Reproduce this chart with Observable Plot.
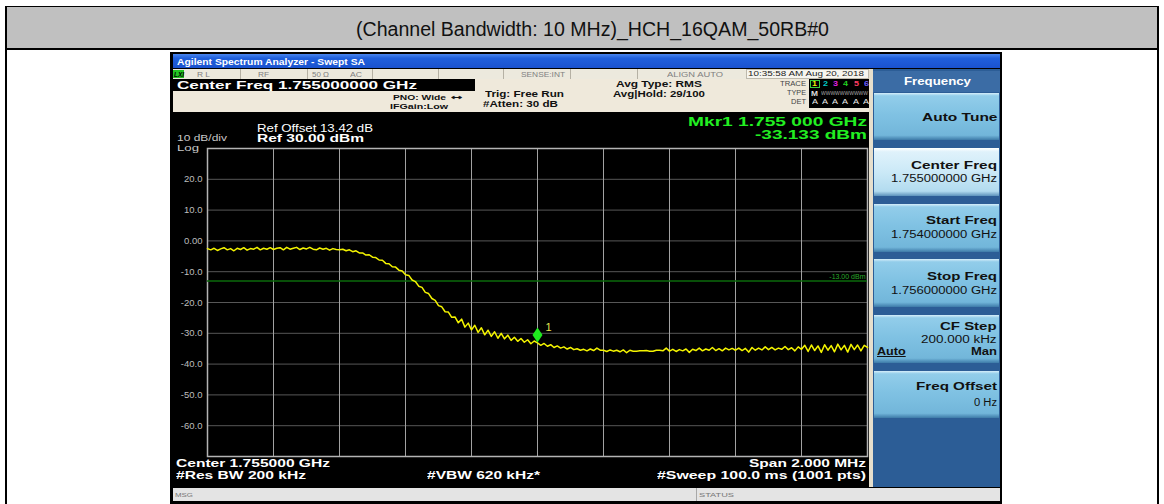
<!DOCTYPE html>
<html><head><meta charset="utf-8">
<script src="https://cdn.jsdelivr.net/npm/d3@7"></script>
<script src="https://cdn.jsdelivr.net/npm/@observablehq/plot@0.6"></script>
<style>
html,body{margin:0;padding:0;background:#fff;}
#root{position:relative;width:1164px;height:504px;overflow:hidden;font-family:"Liberation Sans",Arial,sans-serif;}
.b{position:absolute;box-sizing:border-box;}
.t{position:absolute;white-space:nowrap;transform-origin:0 50%;}
#plotwrap{position:absolute;left:170px;top:140px;}
</style></head><body><div id="root"></div>
<script>
// ---------------- data ----------------
const pageTitle = "(Channel Bandwidth: 10 MHz)_HCH_16QAM_50RB#0";
const sweepStartMHz = 1754;
const sweepStopMHz = 1756;
const xGridMHz = [1754.0, 1754.2, 1754.4, 1754.6, 1754.8, 1755.0, 1755.2, 1755.4, 1755.6, 1755.8, 1756.0];
const yGridDbm = [30, 20, 10, 0, -10, -20, -30, -40, -50, -60, -70];
const yTickValues = [20, 10, 0, -10, -20, -30, -40, -50, -60];
const yTickLabels = ["20.0", "10.0", "0.00", "-10.0", "-20.0", "-30.0", "-40.0", "-50.0", "-60.0"];
const limitDbm = -13;
const limitLabel = "-13.00 dBm";
const markerFreqMHz = 1755.0;
const markerDbm = -33.133;
const markerLabel = "1";
// trace (every 0.01 MHz across the span)
const traceLevelsDbm = [
 -2.5,-2.9,-2.4,-3.1,-2.6,-2.2,-2.9,-2.5,-3.2,-2.4,
 -2.8,-2.2,-3.0,-2.5,-2.7,-2.1,-2.9,-2.4,-2.7,-2.2,
 -2.8,-2.4,-2.2,-2.9,-2.1,-2.7,-2.4,-2.1,-2.8,-2.3,
 -2.6,-2.1,-2.7,-2.9,-2.3,-2.7,-2.4,-3.0,-2.5,-2.8,
 -2.9,
 -2.7,-3.2,-2.9,-3.5,-3.2,-3.9,-3.9,-4.6,-4.5,-5.3,
 -5.4,-6.2,-6.3,-7.3,-7.4,-8.4,-8.5,-9.5,-9.8,-11.0,
 -11.2,-12.7,-13.2,-14.7,-15.1,-16.7,-17.1,-18.7,-19.3,-21.0,
 -21.4,-23.0,-23.1,-24.8,-24.7,-26.6,-25.4,-28.0,-26.7,-28.9,
 -27.4,-29.7,-28.2,-30.5,-29.0,-31.0,-29.5,-31.6,-30.0,-31.8,
 -30.6,-32.3,-31.3,-32.6,-31.7,-32.9,-32.1,-33.4,-32.5,-33.133,
 -33.9,-33.3,-34.2,-33.7,-34.6,-34.1,-34.8,-34.4,-35.1,-34.6,
 -35.3,-35.0,-35.5,-35.2,-35.7,-35.1,-35.6,-34.8,-35.5,-35.5,
 -35.9,-35.4,-35.8,-35.5,-36.0,-35.4,-36.3,-35.5,-35.8,-35.8,
 -35.7,-35.7,-35.6,-35.8,-35.8,-35.5,-35.5,-35.7,-34.8,-35.8,
 -35.2,-35.9,-35.3,-35.7,-35.1,-36.2,-35.2,-35.6,-34.8,-35.7,
 -35.1,-35.5,-34.6,-35.6,-35.0,-35.7,-34.8,-35.4,-34.9,-35.5,
 -34.8,-35.6,-34.9,-36.1,-34.6,-35.5,-34.8,-35.4,-34.4,-35.3,
 -34.6,-35.4,-34.8,-35.2,-34.3,-35.3,-34.7,-35.7,-34.4,-35.2,
 -33.9,-35.9,-33.8,-35.6,-34.1,-36.2,-33.7,-35.5,-34.0,-36.0,
 -33.5,-35.4,-33.9,-36.1,-33.6,-35.3,-33.8,-35.7,-33.9,-34.6
];
const trace = traceLevelsDbm.map((v, i) => ({
  f: sweepStartMHz + i * (sweepStopMHz - sweepStartMHz) / (traceLevelsDbm.length - 1), v
}));

// ---------------- helpers ----------------
const root = document.getElementById("root");
function box(x, y, w, h, style) {
  const el = document.createElement("div");
  el.className = "b";
  Object.assign(el.style, {left: x + "px", top: y + "px", width: w + "px", height: h + "px"}, style || {});
  root.appendChild(el);
  return el;
}
function place(txt, o) {
  const el = document.createElement("div");
  el.className = "t";
  el.textContent = txt;
  const s = o.size;
  Object.assign(el.style, {
    fontSize: s + "px", lineHeight: s + "px", top: (o.y - s / 2) + "px", left: "0px",
    color: o.color || "#000", fontWeight: o.bold ? "bold" : "normal",
    fontFamily: o.font || '"Liberation Sans", Arial, sans-serif',
    fontStyle: o.italic ? "italic" : "normal",
    textDecoration: o.underline ? "underline" : "none"
  });
  root.appendChild(el);
  const w0 = el.getBoundingClientRect().width || 1;
  const w = o.w || w0;
  const left = o.anchor === "end" ? o.x - w : o.anchor === "middle" ? o.x - w / 2 : o.x;
  el.style.left = left + "px";
  el.style.transform = `scaleX(${w / w0})`;
  return el;
}

// ---------------- page frame ----------------
box(5, 6, 1154, 44, {background: "#c0c0c0", borderTop: "1.5px solid #000", borderBottom: "2px solid #000", borderLeft: "2px solid #000", borderRight: "2px solid #000"});
box(5, 6, 2, 498, {background: "#000"});
box(1157, 6, 2, 498, {background: "#000"});
place(pageTitle, {x: 592, y: 28.5, size: 20, color: "#111", w: 473, anchor: "middle", font: '"Liberation Sans Narrow","Liberation Sans",Arial,sans-serif'});

// ---------------- instrument screen ----------------
box(170, 52, 832, 452, {background: "#000"});
box(173, 54, 827, 14, {background: "linear-gradient(to bottom,#4a86ee 0,#2060dc 30%,#1a52cf 100%)"});
place("Agilent Spectrum Analyzer - Swept SA", {x: 177, y: 61.5, size: 9.5, bold: true, color: "#fff", w: 188});

// status row
box(173, 69, 697, 10, {background: "#ece9dd"});
[240, 306.7, 371.7, 438, 503, 570, 636.7, 745.7].forEach(x => box(x, 69, 1, 10, {background: "#b5b1a4"}));
box(746, 69, 123, 10, {background: "#f6f5ef", border: "1px solid #bdb9ac"});
box(173, 70, 11, 8, {background: "#22c422"});
place("LXI", {x: 173.5, y: 74, size: 7, bold: true, italic: true, color: "#000", w: 10});
place("R L", {x: 196.7, y: 74, size: 7, color: "#808080", w: 13});
place("RF", {x: 258, y: 74, size: 7, color: "#808080", w: 11});
place("50 Ω", {x: 311.7, y: 74, size: 7, color: "#808080", w: 17});
place("AC", {x: 350, y: 74, size: 7, color: "#808080", w: 12});
place("SENSE:INT", {x: 565, y: 74, size: 7, color: "#808080", w: 44, anchor: "end"});
place("ALIGN AUTO", {x: 667, y: 74, size: 7, color: "#808080", w: 56});
place("10:35:58 AM Aug 20, 2018", {x: 748, y: 74, size: 7.5, color: "#222", w: 116});

// settings area
box(173, 79, 697, 33, {background: "#efe9db"});
box(173, 79, 302, 12, {background: "#000"});
place("Center Freq 1.755000000 GHz", {x: 177, y: 85.3, size: 11.5, bold: true, color: "#fff", w: 240});
place("PNO: Wide", {x: 392.7, y: 98, size: 8, bold: true, color: "#111", w: 53});
place("↔", {x: 451, y: 98, size: 8, bold: true, color: "#111", w: 12, font: '"DejaVu Sans",sans-serif'});
place("IFGain:Low", {x: 390, y: 106.7, size: 8, bold: true, color: "#111", w: 58});
place("Trig: Free Run", {x: 485, y: 94.3, size: 8.5, bold: true, color: "#111", w: 79});
place("#Atten: 30 dB", {x: 483, y: 104.3, size: 8.5, bold: true, color: "#111", w: 75});
place("Avg Type: RMS", {x: 616, y: 84.3, size: 8.5, bold: true, color: "#111", w: 86});
place("Avg|Hold: 29/100", {x: 613, y: 94.3, size: 8.5, bold: true, color: "#111", w: 92});
place("TRACE", {x: 806, y: 84, size: 6.5, color: "#444", w: 26, anchor: "end"});
place("TYPE", {x: 806, y: 93, size: 6.5, color: "#444", w: 19, anchor: "end"});
place("DET", {x: 806, y: 102, size: 6.5, color: "#444", w: 15, anchor: "end"});
box(809, 79, 60, 29, {background: "#000"});
box(810, 80, 9.5, 8, {border: "1px solid #3cd23c"});
const traceColors = ["#f0f000", "#00c8c8", "#e020e0", "#20d020", "#ff3c64", "#6a5cff"];
traceColors.forEach((c, i) => place(String(i + 1), {x: 812.3 + i * 10.3, y: 84, size: 8, bold: true, color: c, w: 5}));
place("M", {x: 811, y: 93, size: 7, bold: true, color: "#ddd", w: 7});
place("WWWWWWWWWW", {x: 821, y: 93, size: 6, color: "#aaa", w: 47});
["A","A","A","A","A","A"].forEach((a, i) => place(a, {x: 811.5 + i * 10.3, y: 102, size: 7.5, color: "#eee", w: 6}));

// readouts
place("Ref Offset 13.42 dB", {x: 257.3, y: 128.3, size: 10.5, color: "#fff", w: 116});
place("Ref 30.00 dBm", {x: 257.3, y: 139, size: 11.5, bold: true, color: "#fff", w: 107});
place("10 dB/div", {x: 176.7, y: 137.5, size: 9.5, color: "#c8c8c8", w: 50});
place("Log", {x: 176.7, y: 147.5, size: 9.5, color: "#c8c8c8", w: 22});
place("Mkr1 1.755 000 GHz", {x: 867, y: 121.5, size: 13.5, bold: true, color: "#22ee22", w: 179, anchor: "end"});
place("-33.133 dBm", {x: 867, y: 135, size: 13.5, bold: true, color: "#22ee22", w: 112, anchor: "end"});

// bottom annotations
place("Center 1.755000 GHz", {x: 175.5, y: 463.5, size: 10.5, bold: true, color: "#fff", w: 154});
place("Span 2.000 MHz", {x: 866, y: 463.5, size: 10.5, bold: true, color: "#fff", w: 117, anchor: "end"});
place("#Res BW 200 kHz", {x: 175.5, y: 475.5, size: 10.5, bold: true, color: "#fff", w: 130});
place("#VBW 620 kHz*", {x: 427, y: 475.5, size: 10.5, bold: true, color: "#fff", w: 113});
place("#Sweep  100.0 ms (1001 pts)", {x: 866, y: 475.5, size: 10.5, bold: true, color: "#fff", w: 209, anchor: "end"});

// message bar
box(173, 488, 827, 13, {background: "#e4e4e4"});
box(696, 488, 1, 13, {background: "#a8a8a8"});
place("MSG", {x: 175, y: 494.5, size: 6, color: "#777", w: 18});
place("STATUS", {x: 699, y: 494.5, size: 6, color: "#777", w: 35});

// right softkey panel
box(869, 69, 4, 418, {background: "#e6dfcd"});
box(873, 69, 127, 418, {background: "#2c5d96"});
box(873, 71, 127, 21, {background: "#3b6ca5"});
place("Frequency", {x: 937, y: 81.3, size: 10.5, bold: true, color: "#fff", w: 67, anchor: "middle"});
const keyNormal = "linear-gradient(to bottom,#d6eefa 0,#92cdea 6%,#80c2e3 45%,#72b6da 90%,#3d7aa8 100%)";
const keyActive = "linear-gradient(to bottom,#ffffff 0,#dff2fb 8%,#cbe9f7 50%,#b2dbef 90%,#5c92bb 100%)";
[[93, 140, keyNormal], [148, 196, keyActive], [204, 252, keyNormal], [259, 307, keyNormal], [315, 363, keyNormal], [371, 418, keyNormal]]
  .forEach(([y0, y1, bg]) => box(874, y0, 125, y1 - y0, {background: bg}));
place("Auto Tune", {x: 997, y: 117.3, size: 11.5, bold: true, color: "#111", w: 75.5, anchor: "end"});
place("Center Freq", {x: 997, y: 165.5, size: 11.5, bold: true, color: "#111", w: 86, anchor: "end"});
place("1.755000000 GHz", {x: 997, y: 179.3, size: 10, color: "#111", w: 106, anchor: "end"});
place("Start Freq", {x: 997, y: 221, size: 11.5, bold: true, color: "#111", w: 71, anchor: "end"});
place("1.754000000 GHz", {x: 997, y: 235, size: 10, color: "#111", w: 106, anchor: "end"});
place("Stop Freq", {x: 997, y: 276.3, size: 11.5, bold: true, color: "#111", w: 70, anchor: "end"});
place("1.756000000 GHz", {x: 997, y: 290.5, size: 10, color: "#111", w: 106, anchor: "end"});
place("CF Step", {x: 997, y: 327, size: 11.5, bold: true, color: "#111", w: 56.6, anchor: "end"});
place("200.000 kHz", {x: 997, y: 339.5, size: 10, color: "#111", w: 75.6, anchor: "end"});
place("Auto", {x: 876.8, y: 351.5, size: 10, bold: true, color: "#111", w: 28.7, underline: true});
place("Man", {x: 997, y: 351.5, size: 10, bold: true, color: "#111", w: 26, anchor: "end"});
place("Freq Offset", {x: 997, y: 387, size: 11.5, bold: true, color: "#111", w: 81, anchor: "end"});
place("0 Hz", {x: 997, y: 403, size: 10, color: "#111", w: 23, anchor: "end"});

// ---------------- the plot ----------------
const markerDiamond = {
  draw(ctx) { ctx.moveTo(0, -7.5); ctx.lineTo(5, 0); ctx.lineTo(0, 7.5); ctx.lineTo(-5, 0); ctx.closePath(); }
};
const markerData = [{f: markerFreqMHz, v: markerDbm}];
const chart = Plot.plot({
  width: 702, height: 320,
  marginLeft: 37, marginRight: 5, marginTop: 8, marginBottom: 4,
  style: {background: "transparent", overflow: "visible", fontFamily: '"Liberation Sans", Arial, sans-serif'},
  x: {domain: [sweepStartMHz, sweepStopMHz], axis: null, label: null},
  y: {domain: [-70, 30], axis: null, label: null},
  marks: [
    Plot.gridY(yGridDbm, {stroke: "#575757", strokeOpacity: 1, strokeWidth: 1}),
    Plot.gridX(xGridMHz, {stroke: "#a2a2a2", strokeOpacity: 1, strokeWidth: 1}),
    Plot.frame({stroke: "#b4b4b4", strokeWidth: 1.5}),
    Plot.axisY(yTickValues, {tickSize: 0, tickPadding: 5, fontSize: 9.5, fill: "#bdbdbd", label: null,
      tickFormat: d => yTickLabels[yTickValues.indexOf(d)]}),
    Plot.ruleY([limitDbm], {stroke: "#0b6a0b", strokeWidth: 1.6}),
    Plot.text([{f: sweepStopMHz, v: limitDbm}], {x: "f", y: "v", text: () => limitLabel, textAnchor: "end",
      dx: -2, dy: -4, fill: "#2aa82a", fontSize: 7}),
    Plot.line(trace, {x: "f", y: "v", stroke: "#f4f400", strokeWidth: 1.5}),
    Plot.dot(markerData, {x: "f", y: "v", symbol: markerDiamond, fill: "#1eea1e", stroke: "none", dy: -8}),
    Plot.text(markerData, {x: "f", y: "v", text: () => markerLabel, dx: 11, dy: -15, fill: "#e6e650", fontSize: 11})
  ]
});
const wrap = document.createElement("div");
wrap.id = "plotwrap";
wrap.appendChild(chart);
root.appendChild(wrap);
</script></body></html>
